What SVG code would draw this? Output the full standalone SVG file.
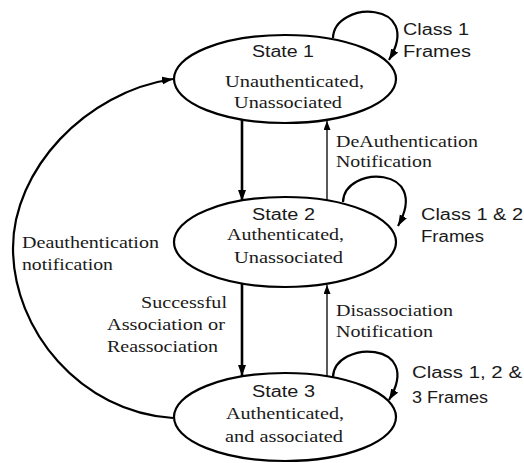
<svg xmlns="http://www.w3.org/2000/svg" width="524" height="463" viewBox="0 0 524 463">
<style>
.st{fill:#fff;stroke:#000;stroke-width:2.2}
.sans{font-family:"Liberation Sans",Arial,sans-serif;font-size:16px;fill:#1a1a1a}
.serif{font-family:"Liberation Serif","Times New Roman",serif;font-size:17px;fill:#1a1a1a}
.thick{fill:none;stroke:#000;stroke-width:2.6}
.thin{fill:none;stroke:#000;stroke-width:1.3}
.loop{fill:none;stroke:#000;stroke-width:2.2}
</style>
<defs>
<marker id="ah" markerUnits="userSpaceOnUse" markerWidth="12" markerHeight="10" refX="11" refY="4" orient="auto">
<path d="M0,0 L11,4 L0,8 Z" fill="#000"/>
</marker>
<marker id="ahs" markerUnits="userSpaceOnUse" markerWidth="10" markerHeight="8" refX="9" refY="3.5" orient="auto">
<path d="M0,0 L9,3.5 L0,7 Z" fill="#000"/>
</marker>
</defs>
<g id="connectors">
<path class="thick" d="M242,120 L242,201" marker-end="url(#ah)"/>
<path class="thin" d="M327,200 L327,121" marker-end="url(#ahs)"/>
<path class="thick" d="M242,284 L242,376" marker-end="url(#ah)"/>
<path class="thin" d="M327,376 L327,285" marker-end="url(#ahs)"/>
<path class="loop" d="M173,418 C80,412 13,330 13,248 C13,170 85,92 173,79" marker-end="url(#ah)"/>
<path class="loop" d="M333,38 C334,0 425,0 389,60" marker-end="url(#ah)"/>
<path class="loop" d="M343,202 C344,165 432,165 398,226" marker-end="url(#ah)"/>
<path class="loop" d="M333,377 C334,340 425,340 389,400" marker-end="url(#ah)"/>
</g>
<g id="state1">
<ellipse class="st" cx="285" cy="79" rx="111" ry="44"/>
<text class="sans" x="252" y="57" textLength="62" lengthAdjust="spacingAndGlyphs">State 1</text>
<text class="serif" x="225" y="87" textLength="139" lengthAdjust="spacingAndGlyphs">Unauthenticated,</text>
<text class="serif" x="234" y="108" textLength="108" lengthAdjust="spacingAndGlyphs">Unassociated</text>
</g>
<g id="state2">
<ellipse class="st" cx="285" cy="242" rx="111" ry="45"/>
<text class="sans" x="252" y="220" textLength="63" lengthAdjust="spacingAndGlyphs">State 2</text>
<text class="serif" x="227" y="240" textLength="117" lengthAdjust="spacingAndGlyphs">Authenticated,</text>
<text class="serif" x="234" y="263" textLength="109" lengthAdjust="spacingAndGlyphs">Unassociated</text>
</g>
<g id="state3">
<ellipse class="st" cx="285" cy="417" rx="111" ry="44"/>
<text class="sans" x="252" y="397" textLength="63" lengthAdjust="spacingAndGlyphs">State 3</text>
<text class="serif" x="226" y="419" textLength="118" lengthAdjust="spacingAndGlyphs">Authenticated,</text>
<text class="serif" x="225" y="442" textLength="118" lengthAdjust="spacingAndGlyphs">and associated</text>
</g>
<g id="labels">
<text class="sans" x="403" y="35" textLength="66" lengthAdjust="spacingAndGlyphs">Class 1</text>
<text class="sans" x="403" y="57" textLength="68" lengthAdjust="spacingAndGlyphs">Frames</text>
<text class="sans" x="421" y="220" textLength="102" lengthAdjust="spacingAndGlyphs">Class 1 &amp; 2</text>
<text class="sans" x="421" y="242" textLength="63" lengthAdjust="spacingAndGlyphs">Frames</text>
<text class="sans" x="412" y="378" textLength="110" lengthAdjust="spacingAndGlyphs">Class 1, 2 &amp;</text>
<text class="sans" x="412" y="403" textLength="76" lengthAdjust="spacingAndGlyphs">3 Frames</text>
<text class="serif" x="336" y="147" textLength="142" lengthAdjust="spacingAndGlyphs">DeAuthentication</text>
<text class="serif" x="336" y="167" textLength="96" lengthAdjust="spacingAndGlyphs">Notification</text>
<text class="serif" x="336" y="316" textLength="117" lengthAdjust="spacingAndGlyphs">Disassociation</text>
<text class="serif" x="336" y="337" textLength="97" lengthAdjust="spacingAndGlyphs">Notification</text>
<text class="serif" x="141" y="308" textLength="86" lengthAdjust="spacingAndGlyphs">Successful</text>
<text class="serif" x="107" y="330" textLength="118" lengthAdjust="spacingAndGlyphs">Association or</text>
<text class="serif" x="107" y="352" textLength="111" lengthAdjust="spacingAndGlyphs">Reassociation</text>
<text class="serif" x="22" y="248" textLength="137" lengthAdjust="spacingAndGlyphs">Deauthentication</text>
<text class="serif" x="22" y="270" textLength="91" lengthAdjust="spacingAndGlyphs">notification</text>
</g>
</svg>
